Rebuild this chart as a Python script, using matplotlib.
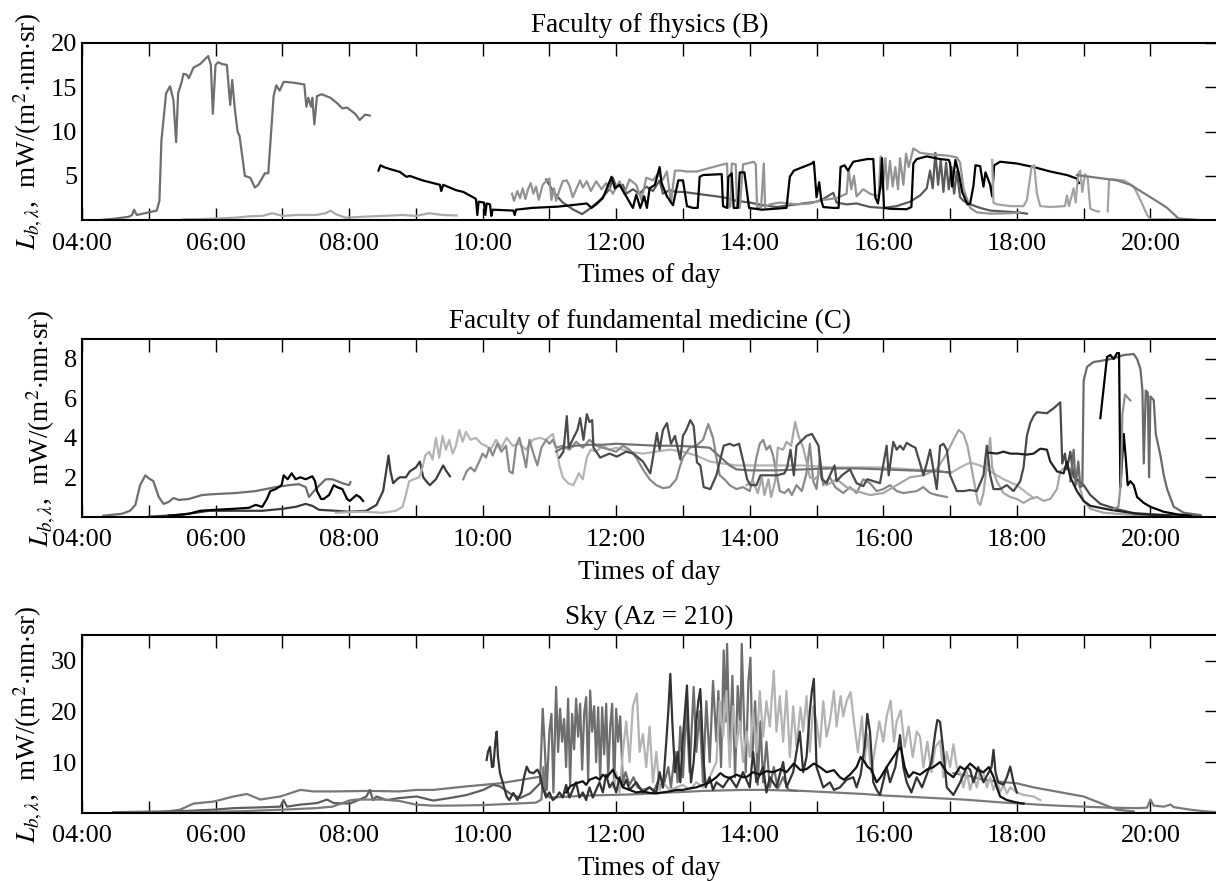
import matplotlib
matplotlib.use("Agg")
import matplotlib.dates as mdates
import pandas as pd
from matplotlib import pyplot as plt

plt.rcParams["font.family"] = ["Liberation Serif", "DejaVu Serif"]
plt.rcParams["mathtext.fontset"] = "stix"
plt.rcParams["font.size"] = 19

DAY = pd.Timestamp("2019-06-15")

# every series: (hours since midnight, radiance in mW/(m2 nm sr))
# --- Faculty of physics (B)
phys_a = [(4.24, 0.0), (4.5, 0.2), (4.7, 0.4), (4.75, 0.6), (4.78, 1.2), (4.82, 0.6), (5.0, 0.9), (5.12, 1.1),
          (5.16, 2.2), (5.19, 9.0), (5.26, 14.3), (5.32, 15.1), (5.37, 13.5), (5.41, 8.8), (5.44, 14.3),
          (5.49, 15.5), (5.52, 16.5), (5.57, 16.4), (5.6, 16.0), (5.67, 17.2), (5.77, 17.6), (5.89, 18.5),
          (5.93, 17.5), (5.96, 12.0), (6.0, 17.5), (6.04, 17.8), (6.1, 17.6), (6.17, 17.5), (6.22, 13.0),
          (6.25, 15.8), (6.29, 12.5), (6.33, 10.0), (6.36, 9.5), (6.44, 5.0), (6.52, 4.8), (6.59, 3.7),
          (6.64, 4.0), (6.74, 5.3), (6.79, 5.3), (6.87, 14.0), (6.91, 15.2), (6.96, 14.6), (7.02, 15.6),
          (7.17, 15.5), (7.33, 15.3), (7.36, 12.8), (7.39, 13.8), (7.43, 12.8), (7.45, 13.8), (7.48, 10.8),
          (7.52, 14.0), (7.59, 14.2), (7.72, 13.8), (7.82, 13.2), (7.9, 12.6), (7.97, 12.7), (8.09, 12.0),
          (8.16, 11.3), (8.24, 11.9), (8.31, 11.8)]
phys_b = [(5.5, 0.1), (5.8, 0.15), (6.0, 0.2), (6.3, 0.3), (6.5, 0.45), (6.7, 0.5), (6.85, 0.8), (7.0, 0.5),
          (7.2, 0.6), (7.5, 0.6), (7.65, 0.8), (7.72, 1.1), (7.8, 0.7), (7.95, 0.3), (8.2, 0.4), (8.5, 0.5),
          (8.8, 0.6), (9.0, 0.5), (9.2, 0.8), (9.4, 0.6), (9.61, 0.55)]
phys_c = [(8.44, 5.6), (8.47, 6.2), (8.52, 6.0), (8.6, 5.8), (8.76, 5.45), (8.86, 4.9), (8.91, 5.0), (9.1, 4.5),
          (9.36, 4.0), (9.38, 3.3), (9.41, 4.0), (9.6, 3.4), (9.71, 3.2), (9.88, 2.5), (9.9, 2.4), (9.92, 0.6),
          (9.94, 2.1), (10.02, 2.0), (10.04, 0.6), (10.06, 1.9), (10.11, 1.8), (10.13, 0.5), (10.15, 1.2),
          (10.3, 1.15), (10.46, 1.1), (10.48, 0.6), (10.5, 1.2), (10.74, 1.4), (11.14, 1.55), (11.56, 1.9),
          (11.63, 1.4), (11.7, 1.8), (11.8, 2.5), (11.93, 4.9), (11.98, 3.6), (12.05, 4.0), (12.15, 2.7),
          (12.25, 1.4), (12.3, 2.9), (12.36, 1.4), (12.42, 2.7), (12.46, 1.4), (12.5, 3.6), (12.58, 4.0),
          (12.65, 6.0), (12.68, 4.2), (12.76, 2.7), (12.85, 1.7), (12.93, 4.5), (13.0, 4.5), (13.06, 1.6),
          (13.15, 1.4), (13.22, 1.4), (13.25, 4.9), (13.3, 5.1), (13.58, 5.2), (13.6, 1.6), (13.66, 1.4),
          (13.68, 4.9), (13.73, 5.3), (13.76, 1.4), (13.82, 1.4), (13.85, 5.4), (13.92, 5.4), (13.99, 1.4),
          (14.18, 1.2), (14.55, 1.4), (14.6, 4.9), (14.66, 5.6), (14.93, 6.4), (14.96, 6.6), (15.0, 2.6),
          (15.04, 4.3), (15.07, 2.3), (15.1, 1.5), (15.25, 1.4), (15.33, 1.4), (15.36, 6.0), (15.42, 6.2),
          (15.47, 5.6), (15.55, 6.6), (15.76, 6.9), (15.85, 6.9), (15.88, 2.6), (15.92, 1.9), (15.96, 4.0),
          (15.98, 7.0), (16.01, 1.4), (16.1, 1.3), (16.35, 1.25), (16.42, 1.5), (16.45, 6.4), (16.5, 6.9),
          (16.65, 7.2), (16.85, 6.9), (16.98, 6.8), (17.0, 6.4), (17.03, 3.8), (17.08, 6.8), (17.13, 5.3),
          (17.18, 3.2), (17.26, 1.8), (17.3, 1.9), (17.35, 3.9), (17.38, 6.2), (17.45, 6.1), (17.5, 3.8),
          (17.53, 5.4), (17.6, 4.0), (17.63, 2.7), (17.66, 6.2), (17.75, 6.6), (18.0, 6.4), (18.25, 6.0),
          (18.5, 5.5), (18.75, 5.1), (18.9, 4.7), (18.93, 4.2)]
phys_d = [(10.44, 3.0), (10.47, 2.2), (10.52, 3.3), (10.56, 2.5), (10.6, 3.6), (10.64, 2.4), (10.68, 3.5),
          (10.72, 4.2), (10.76, 3.0), (10.8, 3.8), (10.84, 2.3), (10.9, 4.0), (10.96, 4.5), (11.0, 4.7),
          (11.03, 2.3), (11.07, 3.6), (11.1, 2.2), (11.15, 3.4), (11.2, 4.4), (11.26, 4.5), (11.3, 3.9),
          (11.35, 2.6), (11.4, 3.5), (11.46, 4.5), (11.5, 3.7), (11.56, 4.4), (11.62, 3.3), (11.7, 4.4),
          (11.78, 3.5), (11.85, 4.2), (11.95, 3.0), (12.05, 4.4), (12.12, 3.0), (12.2, 4.6), (12.3, 4.0),
          (12.38, 2.3), (12.45, 4.8), (12.55, 4.5), (12.62, 5.2), (12.7, 4.6), (12.76, 5.5), (12.82, 2.0),
          (12.88, 5.6), (12.96, 5.6), (13.05, 5.5), (13.21, 5.5), (13.4, 5.9), (13.55, 6.2), (13.66, 6.4),
          (13.68, 1.4), (13.71, 1.6), (13.73, 6.4), (13.79, 6.3), (13.81, 1.5), (13.85, 1.4), (13.9, 6.3),
          (13.96, 6.4), (14.06, 6.6), (14.09, 6.3), (14.11, 1.4), (14.17, 1.5), (14.21, 6.4), (14.23, 1.5),
          (14.3, 1.8), (14.45, 2.0), (14.7, 1.8), (14.9, 1.9), (15.1, 2.3), (15.3, 2.5), (15.45, 3.0),
          (15.48, 5.8), (15.52, 3.5), (15.56, 5.0), (15.6, 2.7), (15.7, 3.5), (15.8, 3.0), (15.93, 2.7),
          (15.96, 7.2), (15.99, 3.5), (16.03, 7.0), (16.06, 3.5), (16.1, 6.7), (16.14, 3.8), (16.18, 6.0),
          (16.22, 3.5), (16.25, 7.0), (16.3, 4.0), (16.34, 7.5), (16.38, 6.0), (16.45, 8.1), (16.55, 7.6),
          (16.75, 7.4), (16.95, 7.3), (17.1, 7.1), (17.15, 6.5), (17.2, 3.6), (17.3, 1.4), (17.4, 0.9),
          (17.6, 0.75), (17.9, 0.8), (18.05, 0.9)]
phys_e = [(10.95, 4.6), (11.06, 3.2), (11.2, 2.0), (11.36, 1.2), (11.49, 0.7), (11.61, 1.35), (11.76, 2.3),
          (11.9, 3.5), (11.95, 4.8), (12.0, 3.8), (12.1, 4.0), (12.15, 3.0), (12.25, 3.5), (12.35, 3.0),
          (12.45, 3.8), (12.55, 3.3), (12.65, 4.5), (12.7, 3.0), (12.8, 3.4), (12.9, 3.2), (13.0, 3.2),
          (13.2, 3.0), (13.4, 2.8), (13.6, 2.6), (13.8, 2.2), (14.0, 2.0), (14.2, 1.7), (14.4, 1.5), (14.6, 1.7),
          (14.8, 1.9), (15.0, 2.1), (15.1, 2.4), (15.25, 3.1), (15.3, 2.0), (15.45, 1.8), (15.6, 1.9),
          (15.8, 1.5), (16.0, 1.4), (16.2, 1.6), (16.4, 2.1), (16.55, 2.8), (16.65, 3.6), (16.7, 5.6),
          (16.74, 3.6), (16.78, 7.6), (16.82, 4.0), (16.86, 6.8), (16.9, 3.2), (16.94, 6.5), (16.98, 3.5),
          (17.02, 6.0), (17.06, 3.0), (17.1, 5.5), (17.15, 2.6), (17.2, 2.2), (17.3, 1.8), (17.45, 1.4),
          (17.6, 1.1), (17.8, 1.0), (18.0, 0.9), (18.15, 0.75)]
phys_f = [(17.63, 6.8), (17.65, 2.0), (17.7, 1.8), (17.9, 1.6), (18.1, 1.6), (18.15, 2.3), (18.22, 6.0),
          (18.26, 6.2), (18.3, 3.0), (18.35, 1.6), (18.5, 1.5), (18.72, 1.6), (18.75, 2.8), (18.78, 1.6),
          (18.85, 3.6), (18.88, 2.0), (18.92, 5.3), (18.95, 5.6), (18.98, 3.2), (19.02, 5.2), (19.06, 4.8),
          (19.1, 1.3), (19.2, 1.0), (19.23, 1.0)]
phys_f2 = [(19.36, 1.0), (19.38, 4.6), (19.45, 4.6), (19.6, 4.5), (19.75, 3.8), (19.85, 2.3), (19.95, 0.6),
           (20.0, 0.1), (20.3, 0.1), (20.6, 0.05)]
phys_g = [(18.9, 5.1), (19.1, 4.9), (19.3, 4.7), (19.5, 4.5), (19.7, 4.0), (19.85, 3.3), (20.0, 2.6),
          (20.15, 1.9), (20.25, 1.4), (20.35, 0.7), (20.42, 0.2), (20.6, 0.1), (20.8, 0.0)]

# --- Faculty of fundamental medicine (C)
med_a = [(4.32, 0.05), (4.6, 0.15), (4.72, 0.3), (4.8, 0.6), (4.87, 1.6), (4.95, 2.1), (5.0, 1.95), (5.07, 1.8),
         (5.15, 1.0), (5.22, 0.65), (5.3, 0.75), (5.37, 0.95), (5.45, 0.85), (5.6, 0.9), (5.8, 1.1), (6.0, 1.15),
         (6.3, 1.2), (6.6, 1.3), (6.9, 1.5), (7.1, 1.6), (7.25, 1.65), (7.35, 1.5), (7.4, 1.0), (7.5, 1.4),
         (7.65, 1.9), (7.75, 1.9), (7.9, 1.7), (8.0, 1.6), (8.02, 1.75)]
med_b = [(5.3, 0.05), (5.6, 0.15), (5.77, 0.3), (6.0, 0.35), (6.27, 0.4), (6.5, 0.45), (6.6, 0.6), (6.7, 0.5),
         (6.77, 0.9), (6.82, 1.3), (6.9, 1.4), (6.99, 1.6), (7.02, 2.1), (7.08, 1.9), (7.14, 2.2), (7.2, 1.9),
         (7.27, 2.0), (7.35, 1.9), (7.45, 2.05), (7.49, 1.8), (7.52, 1.3), (7.58, 0.9), (7.62, 0.9), (7.7, 1.1),
         (7.77, 1.6), (7.82, 1.5), (7.9, 1.4), (7.97, 0.9), (8.01, 0.8), (8.11, 1.1), (8.16, 1.0), (8.21, 0.8)]
med_c = [(5.0, 0.0), (5.5, 0.1), (5.9, 0.3), (6.3, 0.3), (6.7, 0.3), (7.0, 0.4), (7.2, 0.5), (7.35, 0.65),
         (7.45, 0.55), (7.55, 0.35), (7.8, 0.3), (8.0, 0.25), (8.26, 0.3), (8.41, 0.6), (8.51, 1.3), (8.56, 2.4),
         (8.59, 3.1), (8.62, 2.3), (8.66, 1.7), (8.72, 1.9), (8.76, 2.0), (8.85, 2.0), (8.91, 2.3), (9.0, 2.5),
         (9.06, 2.8), (9.11, 2.0), (9.18, 1.7), (9.21, 1.6), (9.3, 1.9), (9.41, 2.6), (9.45, 2.35), (9.51, 2.05)]
med_d = [(7.8, 0.2), (8.2, 0.25), (8.5, 0.2), (8.7, 0.3), (8.8, 0.5), (8.85, 1.1), (8.9, 1.8), (8.97, 1.9),
         (9.05, 2.0), (9.1, 2.5), (9.14, 3.1), (9.2, 3.3), (9.25, 2.9), (9.3, 4.0), (9.35, 3.0), (9.4, 4.1),
         (9.45, 3.4), (9.5, 3.9), (9.55, 3.2), (9.6, 3.6), (9.65, 4.4), (9.7, 3.8), (9.75, 4.3), (9.82, 3.9),
         (9.9, 4.0), (9.98, 3.7), (10.05, 3.6), (10.12, 3.4), (10.2, 3.9), (10.28, 3.5), (10.36, 4.0),
         (10.45, 3.6), (10.55, 3.7), (10.65, 3.4), (10.75, 3.9), (10.85, 4.0), (10.95, 3.9), (11.05, 4.2),
         (11.1, 3.5), (11.15, 2.6), (11.2, 2.0), (11.28, 1.7), (11.36, 1.6), (11.44, 2.2), (11.5, 1.9),
         (11.56, 3.0), (11.62, 3.4), (11.7, 3.3), (11.8, 3.6), (11.9, 3.4), (12.0, 3.5), (12.2, 3.3),
         (12.4, 3.2), (12.6, 3.3), (12.8, 3.4), (13.0, 3.3), (13.2, 3.1), (13.4, 2.8), (13.6, 2.7), (13.8, 2.6),
         (14.0, 2.6), (14.4, 2.6), (14.8, 2.6), (15.2, 2.5), (15.6, 2.5), (16.0, 2.5), (16.4, 2.4), (16.8, 2.35),
         (17.0, 2.2), (17.15, 2.5), (17.3, 2.75), (17.45, 2.6), (17.6, 2.3), (17.8, 1.9), (18.0, 1.6),
         (18.15, 1.2), (18.25, 0.95)]
med_e = [(13.95, 1.6), (14.05, 1.8), (14.12, 1.2), (14.18, 2.0), (14.22, 1.1), (14.28, 1.9), (14.32, 1.0),
         (14.38, 1.8), (14.42, 3.5), (14.5, 3.4), (14.55, 3.8), (14.62, 3.6), (14.68, 4.8), (14.73, 4.1),
         (14.8, 3.5), (14.85, 2.8), (14.9, 2.0), (14.97, 1.9), (15.05, 2.2), (15.15, 1.6), (15.3, 1.9),
         (15.45, 1.5), (15.6, 1.3), (15.8, 1.1), (16.0, 1.2), (16.2, 1.6), (16.4, 2.0), (16.6, 2.1), (16.8, 2.4),
         (16.95, 3.2), (17.05, 3.9), (17.13, 4.4), (17.2, 4.2), (17.26, 3.6), (17.32, 2.5), (17.38, 1.4),
         (17.42, 0.7), (17.45, 0.6), (17.5, 1.2), (17.55, 2.6), (17.6, 4.0), (17.63, 2.5), (17.7, 1.8),
         (17.8, 1.2), (17.9, 1.0), (18.0, 0.9), (18.1, 0.7), (18.2, 0.9), (18.3, 1.0), (18.4, 0.8), (18.5, 0.9),
         (18.6, 1.4), (18.65, 2.3), (18.72, 2.5), (18.8, 2.4), (18.88, 2.0), (18.95, 1.4), (19.0, 0.8),
         (19.1, 0.4), (19.3, 0.2), (19.5, 0.15), (19.7, 0.1), (19.9, 0.05), (20.1, 0.02)]
med_f = [(9.71, 1.9), (9.76, 2.3), (9.82, 2.5), (9.88, 2.3), (9.95, 2.8), (10.0, 3.2), (10.05, 3.0), (10.1, 3.5),
         (10.15, 3.1), (10.22, 3.7), (10.28, 3.3), (10.35, 3.6), (10.4, 2.3), (10.45, 2.2), (10.5, 3.6),
         (10.55, 4.0), (10.6, 3.3), (10.65, 2.5), (10.7, 3.9), (10.76, 3.2), (10.82, 2.6), (10.88, 3.5),
         (10.95, 3.9), (11.0, 3.7), (11.05, 3.9), (11.1, 3.5), (11.2, 3.6), (11.3, 3.4), (11.4, 3.8), (11.5, 3.5),
         (11.6, 3.9), (11.7, 3.6), (11.8, 3.5), (11.9, 3.4), (12.0, 3.3), (12.1, 3.6), (12.2, 3.4), (12.3, 3.0),
         (12.4, 2.4), (12.5, 1.9), (12.6, 1.6), (12.7, 1.45), (12.8, 1.5), (12.9, 1.9), (12.95, 2.5), (13.0, 3.0),
         (13.1, 3.5), (13.2, 3.6), (13.3, 3.9), (13.38, 4.7), (13.45, 4.0), (13.5, 3.0), (13.55, 2.1),
         (13.62, 1.9), (13.7, 1.6), (13.8, 1.4), (13.9, 1.5), (14.0, 1.3), (14.05, 2.0), (14.1, 3.0), (14.15, 3.7),
         (14.2, 3.9), (14.25, 3.4), (14.3, 3.6), (14.35, 3.1), (14.4, 2.2), (14.45, 1.3), (14.52, 1.2),
         (14.58, 1.4), (14.63, 1.1), (14.7, 1.6), (14.78, 1.3), (14.85, 2.2), (14.9, 3.7), (14.95, 1.8),
         (15.0, 1.4), (15.05, 3.0), (15.1, 1.6), (15.2, 2.0), (15.28, 1.5), (15.4, 1.2), (15.5, 1.5), (15.6, 1.2),
         (15.7, 1.9), (15.8, 1.7), (15.9, 1.3), (16.0, 1.4), (16.1, 1.6), (16.2, 1.3), (16.3, 1.2), (16.4, 1.25),
         (16.5, 1.3), (16.6, 1.5), (16.7, 1.2), (16.8, 1.1), (16.95, 1.0)]
med_g = [(11.15, 3.0), (11.21, 3.3), (11.26, 5.1), (11.29, 3.5), (11.36, 4.0), (11.42, 4.4), (11.46, 5.0),
         (11.51, 3.9), (11.56, 5.2), (11.6, 4.8), (11.64, 4.9), (11.66, 3.5), (11.76, 3.0), (11.9, 3.2),
         (12.01, 3.05), (12.15, 3.3), (12.26, 3.2), (12.4, 2.8), (12.51, 2.2), (12.55, 3.0), (12.61, 4.25),
         (12.65, 3.4), (12.7, 4.4), (12.76, 4.75), (12.82, 3.7), (12.88, 4.1), (12.96, 2.9), (13.0, 4.1),
         (13.05, 4.4), (13.11, 4.9), (13.16, 4.6), (13.21, 2.75), (13.26, 2.6), (13.31, 1.5), (13.41, 1.4),
         (13.5, 2.1), (13.61, 3.6), (13.7, 3.7), (13.76, 3.6), (13.84, 3.7), (13.91, 2.7), (13.96, 1.9),
         (14.01, 1.6), (14.1, 1.6), (14.16, 2.1), (14.3, 2.1), (14.41, 2.1), (14.52, 2.2), (14.56, 2.5),
         (14.61, 3.4), (14.66, 2.1), (14.7, 3.6), (14.76, 3.8), (14.85, 4.1), (14.93, 4.2), (15.03, 3.6),
         (15.08, 1.9), (15.15, 1.7), (15.2, 2.1), (15.27, 2.6), (15.3, 1.8), (15.38, 2.1), (15.5, 2.4),
         (15.6, 1.7), (15.7, 1.55), (15.76, 1.9), (15.95, 1.7), (16.05, 3.6), (16.08, 2.1), (16.15, 3.8),
         (16.2, 3.4), (16.25, 3.6), (16.3, 3.4), (16.35, 3.75), (16.42, 3.6), (16.48, 3.5), (16.55, 2.7),
         (16.6, 2.1), (16.65, 2.7), (16.7, 3.4), (16.75, 2.4), (16.8, 1.4), (16.85, 3.6), (16.9, 3.7),
         (16.95, 3.4), (17.0, 2.1), (17.1, 1.3), (17.2, 1.3), (17.3, 1.35), (17.4, 1.3), (17.5, 2.1),
         (17.55, 3.6), (17.6, 2.1), (17.65, 1.4), (17.75, 1.4), (17.85, 1.6), (17.95, 1.3), (18.05, 1.8),
         (18.1, 2.5), (18.15, 4.1), (18.2, 4.75), (18.25, 5.1), (18.3, 5.3), (18.45, 5.25), (18.55, 5.5),
         (18.65, 5.8), (18.68, 2.7), (18.72, 3.2), (18.75, 2.4), (18.8, 3.3), (18.85, 2.0), (18.9, 1.9),
         (19.0, 1.6), (19.1, 1.1), (19.25, 0.65), (19.5, 0.38), (19.75, 0.18), (20.25, 0.08), (20.75, 0.03)]
med_h = [(18.8, 1.8), (18.85, 3.4), (18.88, 1.6), (18.92, 2.8), (18.95, 1.5), (18.98, 1.56), (19.0, 6.9),
         (19.05, 7.6), (19.15, 7.85), (19.25, 7.9), (19.45, 8.03), (19.6, 8.2), (19.75, 8.25), (19.8, 8.0),
         (19.85, 7.5), (19.88, 6.4), (19.9, 2.7), (19.93, 6.4), (19.96, 6.3), (19.98, 2.0), (20.0, 6.1),
         (20.05, 5.9), (20.08, 4.2), (20.15, 3.1), (20.2, 2.1), (20.25, 1.4), (20.35, 0.5), (20.5, 0.2),
         (20.75, 0.08)]
med_i = [(17.58, 3.25), (17.7, 3.2), (17.8, 3.3), (17.9, 3.2), (18.0, 3.2), (18.15, 3.15), (18.25, 3.2),
         (18.35, 3.45), (18.45, 3.4), (18.5, 2.8), (18.6, 2.3), (18.7, 2.2), (18.75, 2.8), (18.8, 2.0),
         (18.9, 1.3), (19.0, 0.8), (19.1, 0.55), (19.25, 0.45), (19.4, 0.35), (19.6, 0.25), (19.8, 0.15),
         (20.0, 0.1), (20.3, 0.05)]
med_j = [(19.25, 5.0), (19.35, 8.1), (19.4, 8.2), (19.45, 8.0), (19.5, 8.3), (19.53, 8.3), (19.55, 1.5),
         (19.6, 4.2), (19.63, 3.0), (19.66, 1.6), (19.7, 1.8), (19.75, 1.6), (19.8, 1.0), (19.9, 0.7),
         (20.0, 0.5), (20.2, 0.25), (20.4, 0.12), (20.6, 0.05)]
med_k = [(19.45, 0.4), (19.52, 0.5), (19.56, 1.8), (19.58, 5.2), (19.62, 6.2), (19.67, 6.0), (19.7, 5.9)]
med_l = [(11.1, 3.3), (11.2, 3.5), (11.4, 3.6), (11.6, 3.65), (11.8, 3.65), (12.0, 3.7), (12.3, 3.65),
         (12.6, 3.6), (12.9, 3.6), (13.2, 3.55), (13.4, 3.5), (13.5, 3.2), (13.6, 2.9), (13.7, 2.6), (13.8, 2.4),
         (14.0, 2.35), (14.4, 2.35), (14.8, 2.4), (15.2, 2.45), (15.6, 2.45), (16.0, 2.4), (16.4, 2.35),
         (16.8, 2.3), (17.0, 2.25)]

# --- Sky (Az = 210)
sky_a = [(4.5, 0.0), (5.2, 0.1), (5.47, 0.6), (5.67, 1.8), (5.97, 2.2), (6.27, 3.2), (6.47, 3.7), (6.67, 2.6),
         (6.97, 3.2), (7.27, 4.5), (7.47, 4.2), (7.77, 4.2), (8.3, 4.3), (8.76, 4.2), (9.01, 4.5), (9.26, 4.5),
         (9.76, 5.2), (10.26, 5.8), (10.86, 7.1)]
sky_a2 = [(17.05, 7.8), (17.3, 7.2), (17.5, 6.5), (17.75, 6.1), (18.0, 5.8), (18.25, 5.0), (18.5, 4.4),
          (18.75, 3.8), (19.0, 3.2), (19.25, 1.9), (19.5, 0.6), (19.75, 0.25)]
sky_b = [(4.47, 0.1), (5.47, 0.3), (5.97, 0.6), (6.27, 0.9), (6.77, 1.1), (6.97, 1.2), (7.02, 2.5), (7.07, 1.2),
         (7.27, 1.6), (7.52, 1.9), (7.67, 2.6), (7.77, 1.9), (8.01, 1.8), (8.16, 2.6), (8.26, 3.2), (8.31, 4.5),
         (8.36, 2.5), (8.41, 3.2), (8.56, 2.5), (8.76, 2.9), (9.01, 3.2), (9.26, 2.4), (9.51, 2.9), (9.76, 3.5),
         (10.01, 4.5), (10.16, 5.5), (10.26, 5.2), (10.41, 3.8), (10.56, 2.9), (10.71, 3.8), (10.86, 5.8)]
sky_c = [(4.5, 0.0), (5.5, 0.05), (6.0, 0.2), (6.5, 0.35), (7.0, 0.6), (7.5, 0.9), (7.75, 1.2), (7.9, 1.9),
         (8.0, 2.4), (8.1, 2.6), (8.5, 2.6), (8.76, 2.3), (9.0, 1.6), (9.25, 1.4), (9.5, 1.4), (10.0, 1.5),
         (10.5, 1.8), (10.8, 2.0), (10.88, 2.6), (10.91, 9.0), (10.94, 4.0), (11.0, 3.0), (11.3, 3.2),
         (11.6, 3.4), (11.9, 3.5), (12.2, 3.6), (12.4, 3.7), (12.6, 3.9), (12.8, 4.0), (13.0, 4.1), (13.3, 4.3),
         (13.6, 4.4), (13.9, 4.5), (14.2, 4.5), (14.5, 4.4), (14.8, 4.3), (15.1, 4.1), (15.4, 3.9), (15.7, 3.7),
         (16.0, 3.4), (16.3, 3.2), (16.6, 3.0), (16.9, 2.8), (17.2, 2.6), (17.5, 2.3), (17.8, 2.0), (18.1, 1.8),
         (18.3, 1.6), (18.6, 1.4), (19.0, 1.2), (19.4, 1.0), (19.8, 0.9), (19.95, 1.0), (20.0, 2.6), (20.05, 1.4),
         (20.2, 1.2), (20.3, 1.6), (20.35, 1.1), (20.6, 0.6), (20.8, 0.3), (21.0, 0.1)]
sky_d = [(10.86, 6.0), (10.9, 20.5), (10.93, 13.0), (10.96, 4.5), (11.0, 16.0), (11.03, 19.5), (11.06, 4.0),
         (11.1, 24.8), (11.13, 12.0), (11.16, 20.5), (11.19, 14.0), (11.22, 18.5), (11.25, 9.0), (11.28, 22.5),
         (11.31, 5.5), (11.34, 19.5), (11.37, 12.5), (11.4, 22.5), (11.43, 15.0), (11.46, 21.5), (11.49, 8.5),
         (11.52, 19.5), (11.55, 22.8), (11.58, 6.5), (11.61, 24.1), (11.64, 16.0), (11.67, 21.0), (11.7, 10.0),
         (11.73, 20.8), (11.76, 6.5), (11.79, 20.8), (11.82, 11.5), (11.85, 21.5), (11.88, 7.0), (11.91, 17.0),
         (11.94, 21.5), (11.97, 5.0), (12.0, 20.5), (12.03, 14.0), (12.06, 19.0), (12.1, 6.0), (12.14, 8.0),
         (12.2, 5.5), (12.26, 7.0), (12.32, 5.0), (12.4, 4.5), (12.5, 5.0), (12.56, 4.2), (12.62, 6.0),
         (12.7, 5.0), (12.78, 9.0), (12.82, 5.0), (12.88, 12.0), (12.92, 6.0), (12.96, 17.0), (13.0, 7.0),
         (13.05, 21.0), (13.1, 8.0), (13.16, 24.8), (13.2, 12.0), (13.25, 20.0), (13.3, 6.0), (13.35, 22.0),
         (13.4, 10.0), (13.45, 26.0), (13.5, 14.0), (13.53, 24.0), (13.57, 9.0), (13.61, 32.0), (13.64, 18.0),
         (13.66, 33.3), (13.7, 12.0), (13.74, 27.0), (13.78, 7.0), (13.82, 25.0), (13.86, 16.0), (13.88, 33.3),
         (13.91, 20.0), (13.94, 8.0), (13.98, 26.0), (14.01, 30.6), (14.04, 11.0), (14.08, 22.0), (14.12, 5.5),
         (14.16, 18.0), (14.2, 6.0), (14.25, 14.0), (14.3, 5.0), (14.36, 9.0), (14.42, 4.8), (14.5, 7.0),
         (14.58, 4.5), (14.7, 4.3)]
sky_e = [(11.95, 5.0), (12.0, 8.0), (12.05, 4.0), (12.1, 12.0), (12.15, 18.0), (12.2, 10.0), (12.25, 21.0),
         (12.31, 23.5), (12.35, 12.0), (12.4, 15.5), (12.45, 9.0), (12.5, 17.0), (12.55, 6.0), (12.6, 12.0),
         (12.65, 4.5), (12.7, 6.0), (12.8, 4.5), (12.9, 5.0), (13.0, 5.5), (13.1, 4.5), (13.2, 6.0), (13.3, 5.0),
         (13.4, 7.0), (13.5, 10.0), (13.55, 22.0), (13.6, 15.0), (13.65, 24.0), (13.7, 9.0), (13.75, 21.0),
         (13.8, 13.0), (13.85, 18.0), (13.9, 10.0), (13.95, 16.0), (14.0, 11.0), (14.05, 20.0), (14.1, 12.0),
         (14.15, 24.0), (14.2, 15.0), (14.25, 22.0), (14.3, 17.0), (14.36, 28.0), (14.4, 16.0), (14.45, 23.0),
         (14.5, 14.0), (14.55, 24.0), (14.6, 11.0), (14.65, 21.0), (14.7, 13.0), (14.76, 20.8), (14.8, 16.0),
         (14.85, 23.0), (14.9, 12.0), (14.95, 21.0), (15.0, 18.0), (15.05, 13.0), (15.1, 22.0), (15.15, 15.0),
         (15.2, 18.0), (15.26, 24.0), (15.3, 17.0), (15.36, 23.0), (15.4, 19.0), (15.45, 22.0), (15.51, 23.8),
         (15.56, 18.0), (15.62, 12.0), (15.68, 19.0), (15.72, 10.0), (15.76, 15.6), (15.82, 8.0), (15.88, 13.0),
         (15.94, 18.0), (16.0, 14.0), (16.05, 19.0), (16.11, 22.1), (16.16, 14.0), (16.2, 18.0), (16.26, 20.2),
         (16.32, 13.0), (16.38, 17.0), (16.44, 11.0), (16.5, 16.0), (16.55, 15.0), (16.6, 9.0), (16.66, 14.0),
         (16.72, 8.0), (16.78, 13.0), (16.85, 14.2), (16.9, 7.0), (16.95, 12.0), (17.0, 9.0), (17.05, 13.5),
         (17.1, 9.0), (17.15, 7.8), (17.2, 5.0), (17.25, 8.0), (17.3, 4.5), (17.35, 7.0), (17.4, 5.0),
         (17.45, 8.5), (17.5, 7.8), (17.55, 5.0), (17.6, 7.0), (17.65, 4.5), (17.7, 6.5), (17.75, 4.0),
         (17.8, 5.5), (17.85, 3.8), (17.9, 5.0), (18.0, 4.0), (18.1, 3.5), (18.25, 3.2), (18.35, 2.5)]
sky_f = [(10.06, 10.4), (10.08, 12.0), (10.11, 13.0), (10.14, 9.0), (10.16, 9.1), (10.19, 14.0), (10.21, 16.0),
         (10.23, 11.0), (10.26, 7.8), (10.3, 6.0), (10.36, 3.2), (10.4, 2.5), (10.46, 3.9), (10.52, 2.5),
         (10.58, 4.0), (10.62, 7.0), (10.66, 9.1), (10.7, 8.0), (10.76, 7.8), (10.82, 8.5), (10.86, 7.5),
         (10.9, 5.0), (10.95, 3.0), (11.0, 4.0), (11.05, 2.5), (11.1, 3.0), (11.15, 4.0), (11.2, 3.0),
         (11.25, 5.5), (11.3, 3.0), (11.35, 4.5), (11.4, 6.0), (11.45, 3.0), (11.5, 4.0), (11.55, 2.5),
         (11.6, 5.0), (11.65, 3.0), (11.7, 4.5), (11.75, 6.0), (11.8, 4.0), (11.85, 7.5), (11.9, 5.0),
         (11.95, 6.0), (12.0, 4.0), (12.05, 7.0), (12.1, 5.0), (12.15, 6.5), (12.2, 4.5), (12.3, 6.0),
         (12.4, 4.0), (12.5, 5.0), (12.6, 4.0), (12.65, 8.0), (12.7, 5.0), (12.75, 14.0), (12.78, 20.0),
         (12.81, 27.4), (12.84, 18.0), (12.88, 8.0), (12.92, 12.0), (12.96, 6.0), (13.0, 15.0), (13.03, 20.0),
         (13.06, 25.1), (13.09, 14.0), (13.12, 6.0), (13.16, 10.0), (13.2, 18.0), (13.23, 22.0), (13.26, 24.4),
         (13.3, 12.0), (13.34, 5.0), (13.4, 7.0), (13.45, 4.5), (13.5, 6.0), (13.6, 5.0), (13.7, 7.0),
         (13.8, 5.0), (13.9, 8.0), (14.0, 5.0), (14.05, 12.0), (14.1, 6.0), (14.2, 9.0), (14.25, 4.0),
         (14.3, 7.0), (14.4, 5.0), (14.5, 10.0), (14.55, 5.0), (14.65, 8.0), (14.75, 16.0), (14.8, 8.0),
         (14.85, 11.0), (14.9, 20.0), (14.93, 24.0), (14.96, 26.4), (15.0, 9.0), (15.05, 7.0), (15.1, 5.0),
         (15.2, 6.0), (15.26, 4.5), (15.35, 5.0), (15.45, 6.5), (15.55, 7.0), (15.6, 5.0), (15.66, 7.5),
         (15.72, 13.0), (15.76, 19.5), (15.8, 16.0), (15.85, 6.0), (15.9, 4.5), (15.95, 3.5), (16.05, 9.0),
         (16.1, 6.0), (16.18, 9.0), (16.25, 15.3), (16.3, 9.0), (16.35, 6.0), (16.42, 4.0), (16.5, 7.0),
         (16.58, 5.0), (16.65, 7.5), (16.72, 10.0), (16.78, 16.0), (16.81, 18.3), (16.85, 17.9), (16.9, 12.0),
         (16.95, 5.0), (17.05, 3.5), (17.15, 6.0), (17.25, 9.0), (17.3, 8.5), (17.35, 6.0), (17.42, 9.0),
         (17.5, 6.0), (17.58, 8.0), (17.62, 9.0), (17.65, 12.4), (17.68, 8.0), (17.72, 6.0), (17.8, 5.5),
         (17.85, 7.0), (17.9, 9.1), (17.95, 6.0), (18.0, 4.0)]
sky_g = [(11.25, 4.0), (11.31, 5.2), (11.4, 5.8), (11.5, 6.2), (11.55, 5.5), (11.6, 6.5), (11.7, 7.0),
         (11.75, 6.5), (11.8, 7.5), (11.85, 7.0), (11.91, 7.8), (11.95, 8.5), (12.0, 7.0), (12.05, 6.5),
         (12.1, 5.0), (12.2, 4.5), (12.3, 4.0), (12.4, 4.2), (12.5, 3.9), (12.6, 3.8), (12.7, 4.0), (12.8, 4.2),
         (12.9, 4.5), (13.0, 4.5), (13.1, 4.8), (13.2, 5.0), (13.3, 5.5), (13.4, 6.0), (13.5, 7.0), (13.56, 7.8),
         (13.62, 7.2), (13.7, 6.8), (13.8, 7.5), (13.9, 7.0), (13.96, 7.1), (14.05, 8.0), (14.15, 7.5),
         (14.25, 8.2), (14.35, 8.0), (14.46, 8.6), (14.55, 8.0), (14.66, 9.7), (14.76, 8.4), (14.85, 8.6),
         (14.96, 9.7), (15.05, 9.0), (15.15, 8.0), (15.26, 8.4), (15.35, 7.0), (15.41, 6.5), (15.5, 7.5),
         (15.6, 9.0), (15.66, 11.0), (15.72, 10.0), (15.76, 9.1), (15.82, 8.5), (15.9, 6.0), (15.96, 7.0),
         (16.05, 9.0), (16.15, 11.0), (16.2, 12.0), (16.26, 13.0), (16.32, 9.0), (16.38, 7.0), (16.45, 8.0),
         (16.55, 7.5), (16.65, 8.5), (16.75, 9.0), (16.85, 10.0), (16.95, 8.0), (17.05, 7.0), (17.15, 9.1),
         (17.22, 8.5), (17.3, 9.7), (17.41, 8.4), (17.5, 8.0), (17.58, 9.0), (17.65, 7.1), (17.7, 5.0),
         (17.75, 3.2), (17.85, 2.5), (18.0, 2.0), (18.1, 1.8)]

Y_LABEL = r"$L_{b,\lambda}$,  mW/(m$^2$$\cdot$nm$\cdot$sr)"

panels = [
    ("Faculty of fhysics (B)", 20, [5, 10, 15, 20],
     [(phys_b, "#aaaaaa"), (phys_a, "#6e6e6e"), (phys_e, "#5a5a5a"), (phys_d, "#939393"),
      (phys_c, "#000000"), (phys_f, "#a3a3a3"), (phys_f2, "#a3a3a3"), (phys_g, "#7a7a7a")]),
    ("Faculty of fundamental medicine (C)", 9, [2, 4, 6, 8],
     [(med_a, "#6e6e6e"), (med_c, "#3c3c3c"), (med_b, "#000000"), (med_d, "#b4b4b4"), (med_f, "#8a8a8a"),
      (med_e, "#a6a6a6"), (med_l, "#727272"), (med_g, "#4a4a4a"), (med_h, "#6a6a6a"), (med_i, "#222222"),
      (med_j, "#000000"), (med_k, "#909090")]),
    ("Sky (Az = 210)", 35, [10, 20, 30],
     [(sky_a, "#777777"), (sky_a2, "#777777"), (sky_b, "#5e5e5e"), (sky_c, "#7a7a7a"), (sky_d, "#6e6e6e"),
      (sky_e, "#b3b3b3"), (sky_f, "#333333"), (sky_g, "#111111")]),
]


def to_time(hours):
    """hours since midnight -> timestamps of the measurement day"""
    return DAY + pd.to_timedelta(list(hours), unit="h")


fig = plt.figure(figsize=(12.16, 8.81), dpi=100)
boxes = [[0.0674, 0.7499, 0.9336, 0.2016],
         [0.0674, 0.4135, 0.9336, 0.2014],
         [0.0674, 0.0775, 0.9336, 0.2014]]

for box, (title, ymax, yticks, series) in zip(boxes, panels):
    ax = fig.add_axes(box)
    for points, color in series:
        hours, values = zip(*points)
        ax.plot(to_time(hours), values, color=color, linewidth=1.6)
    ax.set_xlim(to_time([4])[0], to_time([21])[0])
    ax.set_ylim(0, ymax)
    ax.set_yticks(yticks)
    ax.xaxis.set_major_locator(mdates.HourLocator(byhour=range(4, 22, 2)))
    ax.xaxis.set_minor_locator(mdates.HourLocator(byhour=range(5, 22, 2)))
    ax.xaxis.set_major_formatter(mdates.DateFormatter("%H:%M"))
    ax.tick_params(which="both", direction="in", length=9, width=1.0, top=True, right=True, left=False)
    ax.tick_params(axis="x", pad=9)
    for spine in ax.spines.values():
        spine.set_linewidth(1.5)
    ax.set_title(title, fontsize=19.5, pad=8)
    ax.set_xlabel("Times of day", fontsize=19.5, labelpad=6)
    ax.set_ylabel(Y_LABEL, fontsize=19.5, labelpad=4)

fig.savefig("out.png", dpi=100)
